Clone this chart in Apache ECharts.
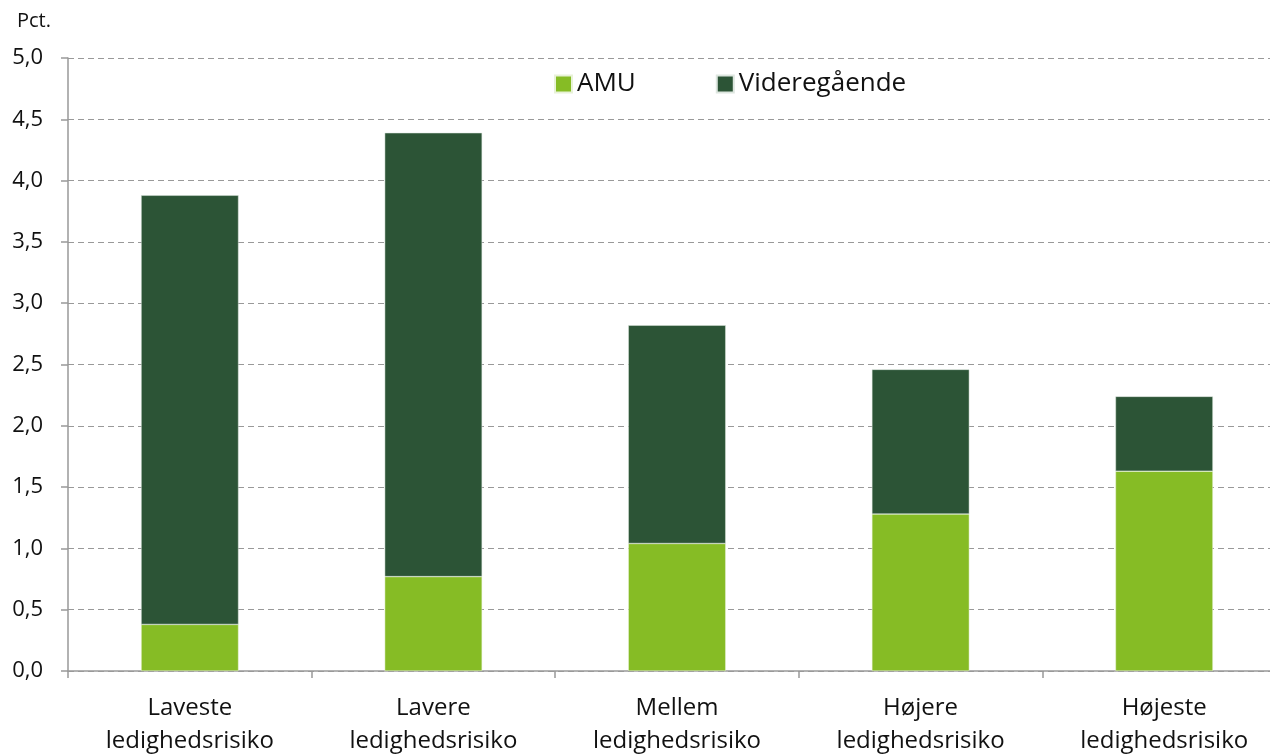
<!DOCTYPE html>
<html>
<head>
<meta charset="UTF-8">
<title>Uddannelse efter ledighedsrisiko</title>
<script src="https://cdn.jsdelivr.net/npm/echarts@6/dist/echarts.min.js"></script>
<style>
body{
margin:0;
background:#ffffff;
overflow:hidden;
}
#chart{
width:1286px;
height:754px;
}
</style>
</head>
<body>

<div id="chart"></div>

<script>

const categories = [
 "Laveste\nledighedsrisiko",
 "Lavere\nledighedsrisiko",
 "Mellem\nledighedsrisiko",
 "Højere\nledighedsrisiko",
 "Højeste\nledighedsrisiko"
]

const amu = [0.38, 0.77, 1.04, 1.28, 1.63]

const videregaaende = [3.50, 3.62, 1.78, 1.18, 0.61]

const font = "'Open Sans', 'Noto Sans', sans-serif"

const chart = echarts.init(document.getElementById("chart"))

chart.setOption({

 animation:false,

 textStyle:{ fontFamily:font },

 grid:{ left:68, right:0, top:58, bottom:83, outerBoundsMode:"none" },

 legend:{
  top:66,
  left:549,
  itemWidth:17,
  itemHeight:17,
  itemGap:80,
  textStyle:{ fontSize:26, color:"#111", fontFamily:font },
  data:[
   { name:"AMU", icon:"rect" },
   { name:"Videregående", icon:"rect" }
  ]
 },

 graphic:[
  {
   type:"text",
   left:17,
   top:11,
   style:{ text:"Pct.", fontSize:20, fill:"#111", fontFamily:font }
  }
 ],

 xAxis:{
  type:"category",
  data:categories,
  axisLine:{ lineStyle:{ color:"#999", width:1.5 } },
  axisTick:{ show:true, length:7, lineStyle:{ color:"#999", width:1.5 } },
  axisLabel:{ fontSize:24, color:"#111", lineHeight:33, margin:21, fontFamily:font }
 },

 yAxis:{
  type:"value",
  min:0,
  max:5,
  interval:0.5,
  axisLine:{ show:true, lineStyle:{ color:"#999", width:1.5 } },
  axisTick:{ show:true, length:7, lineStyle:{ color:"#999", width:1.5 } },
  splitLine:{ lineStyle:{ color:"#999", type:[6,4], width:1 } },
  axisLabel:{
   fontSize:22,
   color:"#111",
   margin:25,
   fontFamily:font,
   formatter:v=>v.toFixed(1).replace(".",",")
  }
 },

 series:[
  {
   name:"AMU",
   type:"bar",
   stack:"total",
   barWidth:"40%",
   data:amu,
   itemStyle:{ color:"#86bc25", borderColor:"#e8f2d8", borderWidth:0.5 }
  },
  {
   name:"Videregående",
   type:"bar",
   stack:"total",
   data:videregaaende,
   itemStyle:{ color:"#2c5436", borderColor:"#dde6df", borderWidth:0.5 }
  }
 ]

})

</script>

</body>
</html>
